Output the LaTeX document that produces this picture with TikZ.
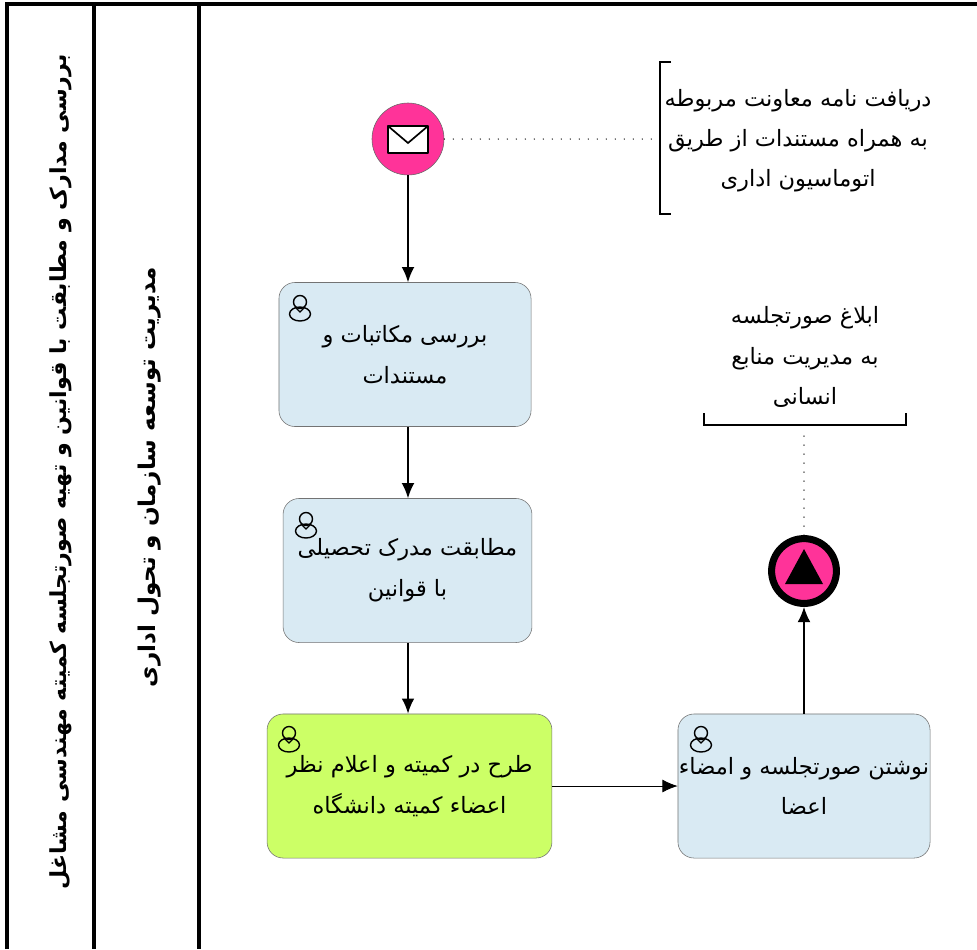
\documentclass[tikz,border=0pt]{standalone}
\usepackage{fontspec}
\usepackage{tikz}
\usetikzlibrary{arrows.meta}
\TeXXeTstate=1
\newfontfamily\arabicfont[Script=Arabic]{DejaVu Sans}
\newcommand{\fa}[1]{{\arabicfont\beginR #1\endR}}
\newcommand{\createuser}[2]{\draw[line width=1pt] (#1,#2-6) circle (6.5); \draw[line width=1pt,fill=none] (#1,#2+6) ellipse (10.5 and 7); \draw[line width=0.8pt] (#1-5,#2-1) -- (#1,#2+4) -- (#1+5,#2-1);}
\definecolor{taskblue}{RGB}{217,234,243}
\definecolor{taskgreen}{RGB}{204,255,102}
\definecolor{eventpink}{RGB}{255,51,153}
\tikzset{
    lane/.style={line width=2.6pt},
    task/.style={draw=black!55,rounded corners=0.4cm,minimum height=3.6cm,align=center,inner sep=0pt,font=\fontsize{16}{29}\selectfont},
    note/.style={align=center,font=\fontsize{16}{28.5}\selectfont},
    lanetext/.style={rotate=90,font=\fontsize{15.7}{20}\selectfont\bfseries},
    flow/.style={-{Latex[length=0.38cm,width=0.32cm]},line width=1pt},
    assoc/.style={line cap=round,dash pattern=on 0pt off 6.4pt,line width=1pt},
}
\begin{document}
\begin{tikzpicture}[x=0.025cm,y=-0.025cm]
    \useasboundingbox (0,0) rectangle (977,949);
    %lanes
    \draw[lane] (7,949) -- (7,4) -- (977,4);
    \draw[lane] (94,4) -- (94,949);
    \draw[lane] (199,4) -- (199,949);
    \node[lanetext] (lanea) at (61,472) {\fa{بررسی مدارک و مطابقت با قوانین و تهیه صورتجلسه کمیته مهندسی مشاغل}};
    \node[lanetext,font=\fontsize{16.4}{20}\selectfont\bfseries] (laneb) at (150,477) {\fa{مدیریت توسعه سازمان و تحول اداری}};
    %events
    \node[circle,draw=black!60,fill=eventpink,minimum size=1.8cm,inner sep=0pt] (startev) at (408,139) {};
    \node[circle,draw=black,line width=5pt,fill=eventpink,minimum size=1.62cm,inner sep=0pt] (endev) at (804,571) {};
    \draw[line width=1.4pt,fill=white,line join=round] (388,126) rectangle (428,153);
    \draw[line width=1.2pt] (388,126) -- (408,143) -- (428,126);
    \fill[black] (804,549) -- (785,584) -- (823,584) -- cycle;
    %tasks
    \node[task,fill=taskblue,minimum width=6.3cm] (review) at (405,354.5) {\fa{بررسی مکاتبات و}\\\fa{مستندات}};
    \node[task,fill=taskblue,minimum width=6.22cm] (match) at (407.5,570.5) {\fa{مطابقت مدرک تحصیلی}\\\fa{با قوانین}};
    \node[task,fill=taskgreen,minimum width=7.12cm] (committee) at (409.5,786) {\fa{طرح در کمیته و اعلام نظر}\\\fa{اعضاء کمیته دانشگاه}};
    \node[task,fill=taskblue,minimum width=6.3cm] (minutes) at (804,786) {\fa{نوشتن صورتجلسه و امضاء}\\\fa{اعضا}};
    \createuser{300}{308}
    \createuser{306}{525}
    \createuser{289}{739}
    \createuser{701}{739}
    %notes
    \node[note] (notea) at (798,141) {\fa{دریافت نامه معاونت مربوطه}\\\fa{به همراه مستندات از طریق}\\\fa{اتوماسیون اداری}};
    \node[note] (noteb) at (805,357) {\fa{ابلاغ صورتجلسه}\\\fa{به مدیریت منابع}\\\fa{انسانی}};
    \coordinate (noteaedge) at (655,139);
    \coordinate (notebedge) at (804,435);
    \draw[line width=1pt] (671,62) -- (660,62) -- (660,214) -- (671,214);
    \draw[line width=1pt] (704,413) -- (704,425) -- (906,425) -- (906,413);
    %flows
    \draw[flow] (startev) -- (review.north -| startev);
    \draw[flow] (review.south -| startev) -- (match.north -| startev);
    \draw[flow,line width=1.3pt] (match.south -| startev) -- (committee.north -| startev);
    \draw[flow,line width=0.6pt] (committee) -- (minutes);
    \draw[flow] (minutes.north -| endev) -- (endev);
    \draw[assoc] (startev) -- (noteaedge);
    \draw[assoc] (endev) -- (notebedge);
\end{tikzpicture}
\end{document}
